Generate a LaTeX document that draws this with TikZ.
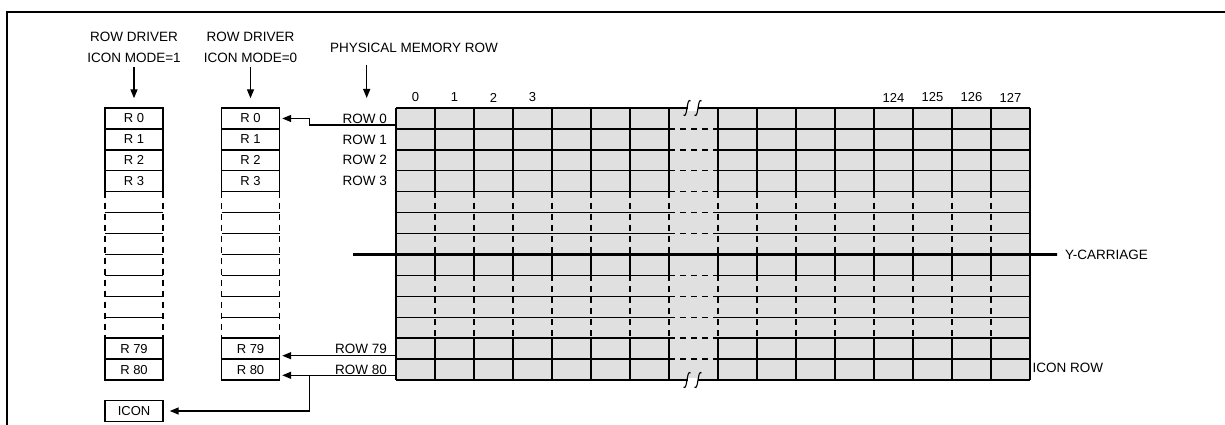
\documentclass[tikz,border=0pt]{standalone}
\usepackage{fontspec}
\setmainfont{Liberation Sans}
\usetikzlibrary{arrows.meta}
\definecolor{cellgray}{RGB}{224,224,224}
\newcommand{\mysquig}[2]{%
  \fill[white] ({#1+0.5},{#2-2.5}) rectangle ({#1+11},{#2+3});
  \foreach \sx in {#1,#1+11}{%
    \draw[line width=1.1pt] ({\sx-3.5},{#2+7}) .. controls ({\sx-1.5},{#2+9}) and ({\sx-0.8},{#2+5}) .. ({\sx},{#2}) .. controls ({\sx+0.8},{#2-5}) and ({\sx+1.5},{#2-9}) .. ({\sx+3.5},{#2-7});
  }%
}
\begin{document}
\begin{tikzpicture}[x=1pt,y=-1pt,
  txt/.style={font=\fontsize{13.5}{15}\selectfont, inner sep=0pt},
  num/.style={font=\fontsize{13}{15}\selectfont, inner sep=0pt},
  cell/.style={draw, line width=1.4pt, minimum width=58pt, minimum height=20.923pt, inner sep=0pt, font=\fontsize{13}{15}\selectfont},
  gl/.style={line width=1.4pt},
  gd/.style={line width=1.4pt, dash pattern=on 6pt off 5pt},
  arr/.style={line width=1.4pt, -{Triangle[length=9pt,width=7pt]}},
]
\def\rh{20.923}
\useasboundingbox (0,0) rectangle (1225,425);
% frame
\draw[line width=2.3pt] (7.3,425) -- (7.3,12) -- (1225,12);

% ---------- memory grid ----------
\fill[cellgray] (396,108) rectangle (1030,380);
\foreach \j in {0,...,13}{
  \draw[gl] (396,{108+\j*\rh}) -- (669,{108+\j*\rh});
  \draw[gl] (718,{108+\j*\rh}) -- (1030,{108+\j*\rh});
}
\foreach \j in {1,...,12}{
  \draw[gd] (669,{108+\j*\rh}) -- (718,{108+\j*\rh});
}
\draw[gl] (669,108) -- (718,108);
\draw[gl] (669,380) -- (718,380);
\foreach \x in {435,474,513,552,591,630,669,718,757,796,835,874,913,952,991}{
  \draw[gl] (\x,108) -- (\x,{108+4*\rh});
  \draw[gd] (\x,{108+4*\rh}) -- (\x,{108+7*\rh});
  \draw[gl] (\x,{108+7*\rh}) -- (\x,{108+8*\rh});
  \draw[gd] (\x,{108+8*\rh}) -- (\x,{108+11*\rh});
  \draw[gl] (\x,{108+11*\rh}) -- (\x,380);
}
\draw[gl] (396,108) -- (396,380);
\draw[gl] (1030,108) -- (1030,380);
\mysquig{687}{108}
\mysquig{687}{380}

% column numbers
\foreach \k/\t in {0/0,1/1,2/2,3/3}{
  \node[num] (c\t) at ({396+\k*39+19.5},97.5) {\t};
}
\foreach \k/\t in {0/124,1/125,2/126,3/127}{
  \node[num] (c\t) at ({874+\k*39+19.5},97.5) {\t};
}

% row labels
\foreach \j/\t in {0/0,1/1,2/2,3/3,11/79,12/80}{
  \node[txt, anchor=east] (lr\t) at (387,{108+(\j+0.5)*\rh}) {ROW \t};
}

% ---------- row drivers ----------
\foreach \c/\cx in {a/134,b/250.5}{
  \foreach \j/\t in {0/0,1/1,2/2,3/3,11/79,12/80}{
    \node[cell] (\c r\t) at (\cx,{108+(\j+0.5)*\rh}) {R \t};
  }
  \draw[gd] ({\cx-29},{108+4*\rh}) -- ({\cx-29},{108+11*\rh});
  \draw[gd] ({\cx+29},{108+4*\rh}) -- ({\cx+29},{108+11*\rh});
  \foreach \j in {5,...,10}{
    \draw[gl] ({\cx-29},{108+\j*\rh}) -- ({\cx+29},{108+\j*\rh});
  }
}
\node[cell, minimum height=21.4pt] (icon) at (134,411) {ICON};

% headers
\node[txt] (h1a) at (134,36.7) {ROW DRIVER};
\node[txt] (h1b) at (134,58) {ICON MODE=1};
\node[txt] (h2a) at (250.5,36.7) {ROW DRIVER};
\node[txt] (h2b) at (250.5,58) {ICON MODE=0};
\draw[arr, shorten <=4pt, shorten >=9pt] (h1b.south) -- (ar0.north);
\draw[arr, shorten <=4pt, shorten >=9pt] (h2b.south) -- (br0.north);
\node[txt, anchor=west] (pm) at (330,48) {PHYSICAL MEMORY ROW};
\coordinate (pms) at (366.7,65);
\coordinate (pmt) at (366.7,98);
\draw[arr] (pms) -- (pmt);

% connectors
\coordinate (g0) at (396,125);
\coordinate (k0) at (309.5,125);
\draw[arr, shorten >=2pt] (g0) -- (k0) |- (br0.east);
\coordinate (g79) at (396,355.7);
\draw[arr, shorten >=2pt] (g79) -- (g79 -| br79.east);
\coordinate (g80) at (396,375.3);
\draw[arr, shorten >=2pt] (g80) -- (g80 -| br80.east);
\coordinate (k80) at (309.5,375.3);
\draw[arr, shorten >=6pt] (k80) |- (icon.east);

% Y-carriage
\node[txt, anchor=west] (yc) at (1065,254.5) {Y-CARRIAGE};
\coordinate (ycs) at (353,{108+7*\rh});
\draw[line width=2.7pt, shorten >=8pt] (ycs) -- (yc.west);

% icon row
\node[txt, anchor=west] (ir) at (1032.5,368) {ICON ROW};
\end{tikzpicture}
\end{document}
